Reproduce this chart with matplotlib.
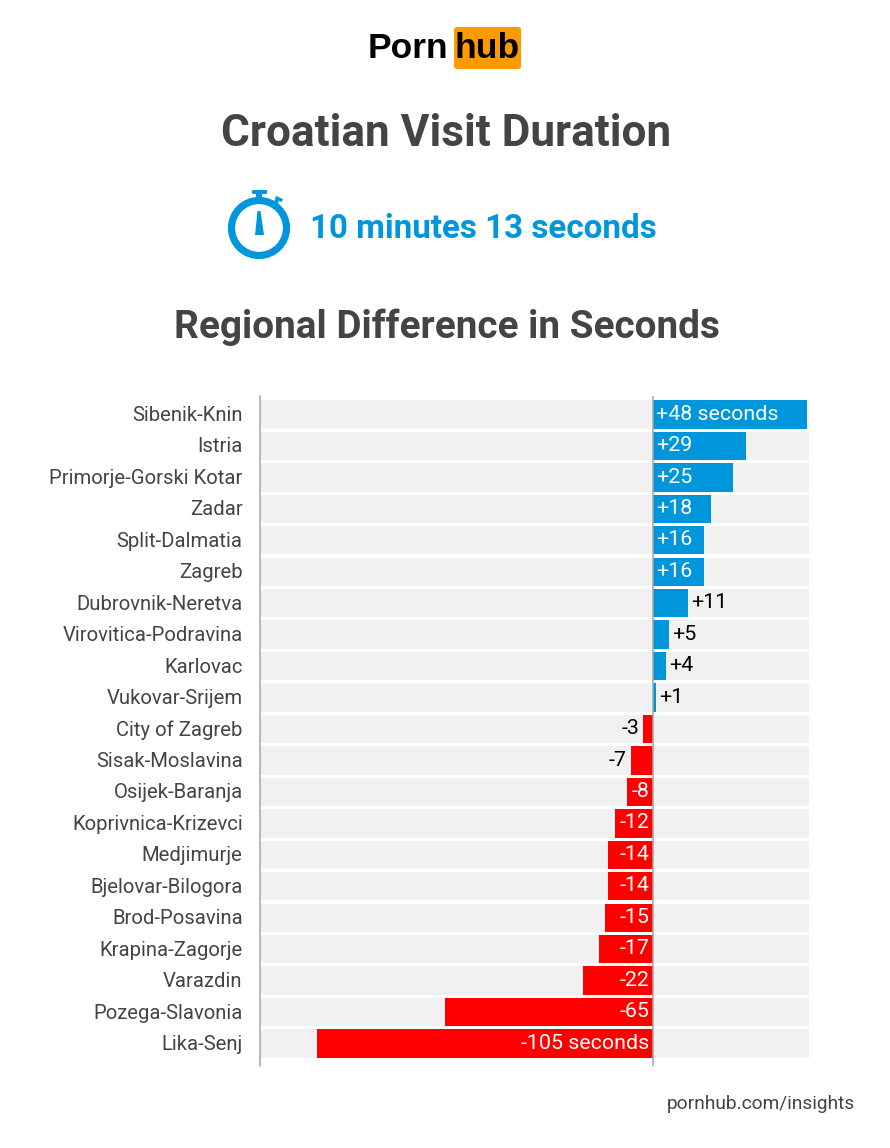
import matplotlib.pyplot as plt
from matplotlib.patches import Circle, FancyBboxPatch, Polygon, Rectangle
from matplotlib.transforms import ScaledTranslation

regions = [
    "Sibenik-Knin", "Istria", "Primorje-Gorski Kotar", "Zadar", "Split-Dalmatia",
    "Zagreb", "Dubrovnik-Neretva", "Virovitica-Podravina", "Karlovac", "Vukovar-Srijem",
    "City of Zagreb", "Sisak-Moslavina", "Osijek-Baranja", "Koprivnica-Krizevci",
    "Medjimurje", "Bjelovar-Bilogora", "Brod-Posavina", "Krapina-Zagorje", "Varazdin",
    "Pozega-Slavonia", "Lika-Senj",
]
diffs = [48, 29, 25, 18, 16, 16, 11, 5, 4, 1, -3, -7, -8, -12, -14, -14, -15, -17, -22, -65, -105]
value_labels = [
    "+48 seconds", "+29", "+25", "+18", "+16", "+16", "+11", "+5", "+4", "+1",
    "-3", "-7", "-8", "-12", "-14", "-14", "-15", "-17", "-22", "-65", "-105 seconds",
]
outside_labels = ["+11", "+5", "+4", "+1", "-3", "-7"]

BLUE = "#0096dc"
RED = "#ff0000"
GREY_TEXT = "#444444"
BAND = "#f1f1f1"
AXIS = "#a6a6a6"

plt.rcParams["font.family"] = ["Roboto", "DejaVu Sans"]

W, H = 890, 1148
fig = plt.figure(figsize=(W / 100, H / 100), dpi=100, facecolor="white")

# chart axes, placed in pixels: x 260-809, y 396-1066
ax = fig.add_axes([260 / W, 1 - 1066 / H, (809 - 260) / W, (1066 - 396) / H])
px_per_sec = 3.2
pitch = 31.45
ax.set_xlim((260 - 653) / px_per_sec, (809 - 653) / px_per_sec)
ax.set_ylim((1066 - 414.5) / pitch, (396 - 414.5) / pitch)
xmin, xmax = ax.get_xlim()

y_pos = list(range(len(regions)))
ax.barh(y_pos, [xmax - xmin] * len(regions), left=xmin, height=0.9, color=BAND, zorder=1)
ax.barh(y_pos, diffs, height=0.9, color=[BLUE if d > 0 else RED for d in diffs], zorder=2)
ax.axvline(0, color=AXIS, lw=1.1, zorder=3)

for i, (d, lab) in enumerate(zip(diffs, value_labels)):
    outside = lab in outside_labels
    if d > 0:
        x, off, ha = (d, 2.2, "left") if outside else (0, 2.2, "left")
    else:
        x, off, ha = (d, -2.6, "right") if outside else (0, -2.6, "right")
    ax.annotate(lab, (x, i), xytext=(off, 1.7), textcoords="offset points",
                ha=ha, va="center_baseline", fontsize=15.4,
                color="black" if outside else "white", zorder=4)

ax.set_yticks(y_pos, regions)
ax.tick_params(axis="y", length=0, pad=12.5, labelsize=14.55, labelcolor=GREY_TEXT)
nudge = ScaledTranslation(0, 1 / 100, fig.dpi_scale_trans)
for tick in ax.get_yticklabels():
    tick.set_transform(tick.get_transform() + nudge)
ax.set_xticks([])
for side in ["top", "right", "bottom"]:
    ax.spines[side].set_visible(False)
ax.spines["left"].set_color(AXIS)
ax.spines["left"].set_linewidth(1.1)

# header layer in pixel coordinates
top = fig.add_axes([0, 0, 1, 1], facecolor="none")
top.set_xlim(0, W)
top.set_ylim(H, 0)
top.axis("off")

# logo
top.text(448, 49, "Porn", ha="right", va="center", fontsize=25.5, fontweight="bold",
         color="black", family="Liberation Sans")
top.add_patch(FancyBboxPatch((454, 27), 67, 42, boxstyle="round,pad=0,rounding_size=3",
                             fc="#ff9900", ec="none"))
top.text(487.5, 49, "hub", ha="center", va="center", fontsize=25.5, fontweight="bold",
         color="black", family="Liberation Sans")

top.text(446.5, 133.5, "Croatian Visit Duration", ha="center", va="center",
         fontsize=31.8, fontweight="bold", color=GREY_TEXT)
top.text(446.5, 327, "Regional Difference in Seconds", ha="center", va="center",
         fontsize=27.9, fontweight="bold", color=GREY_TEXT)
top.text(483, 229, "10 minutes 13 seconds", ha="center", va="center",
         fontsize=23.9, fontweight="bold", color=BLUE)

# stopwatch icon
top.add_patch(Circle((259, 228), 27.5, fc="none", ec=BLUE, lw=5.2))
top.add_patch(Rectangle((256, 194), 6, 8, fc=BLUE, ec="none"))
top.add_patch(FancyBboxPatch((252, 190), 15, 4, boxstyle="round,pad=0,rounding_size=1",
                             fc=BLUE, ec="none"))
top.add_patch(Polygon([(273, 203), (277, 197), (280, 199), (277, 205)], fc=BLUE, ec="none"))
top.add_patch(Polygon([(276, 196), (283, 199), (282, 202), (275, 199)], fc=BLUE, ec="none"))
top.add_patch(Polygon([(257.5, 211), (260.5, 211), (264, 235), (255, 235)], fc=BLUE, ec="none"))

top.text(855, 1104, "pornhub.com/insights", ha="right", va="center", fontsize=13.8, color=GREY_TEXT)

fig.savefig("out.png", dpi=100)
